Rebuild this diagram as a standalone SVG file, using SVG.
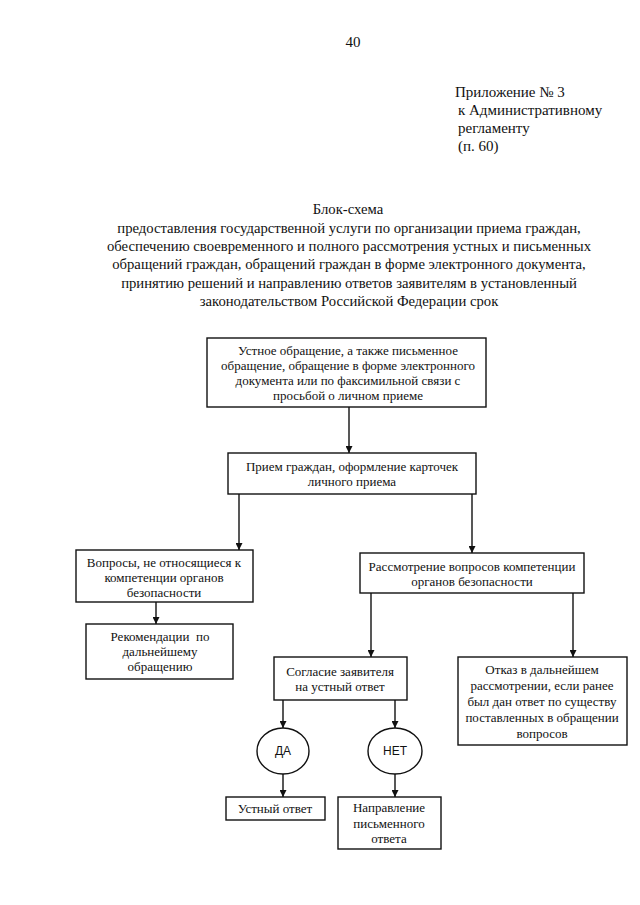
<svg xmlns="http://www.w3.org/2000/svg" width="640" height="905" viewBox="0 0 640 905">
<defs>
<style>
text{font-family:"Liberation Serif","Times New Roman",serif;fill:#111;}
.hd{font-size:15px;}
.t{font-size:14.7px;text-anchor:middle;}
.b{font-size:13px;text-anchor:middle;}
.box{fill:#fff;stroke:#111;stroke-width:1.4;}
.ln{stroke:#111;stroke-width:1.4;fill:none;marker-end:url(#ah);}
</style>
<marker id="ah" viewBox="0 0 10 10" refX="10" refY="5" markerWidth="7" markerHeight="7" markerUnits="userSpaceOnUse" orient="auto">
<path d="M0,0 L10,5 L0,10 z" fill="#111"/>
</marker>
</defs>
<rect width="640" height="905" fill="#fff"/>
<text class="t" x="353" y="47" style="font-size:15px">40</text>
<text class="hd" x="455" y="97">Приложение № 3</text>
<text class="hd" x="458" y="115">к Административному</text>
<text class="hd" x="458" y="133">регламенту</text>
<text class="hd" x="458" y="151">(п. 60)</text>
<text class="t" x="348" y="214">Блок-схема</text>
<text class="t" x="349" y="233">предоставления государственной услуги по организации приема граждан,</text>
<text class="t" x="349" y="251">обеспечению своевременного и полного рассмотрения устных и письменных</text>
<text class="t" x="349" y="269">обращений граждан, обращений граждан в форме электронного документа,</text>
<text class="t" x="349" y="288">принятию решений и направлению ответов заявителям в установленный</text>
<text class="t" x="349" y="306">законодательством Российской Федерации срок</text>
<g id="connectors">
<line class="ln" x1="349" y1="407" x2="349" y2="453"/>
<line class="ln" x1="239" y1="494" x2="239" y2="550"/>
<line class="ln" x1="472" y1="494" x2="472" y2="553"/>
<line class="ln" x1="156" y1="602" x2="156" y2="624"/>
<line class="ln" x1="371" y1="593" x2="371" y2="657"/>
<line class="ln" x1="573" y1="593" x2="573" y2="657"/>
<line class="ln" x1="283" y1="700" x2="283" y2="728"/>
<line class="ln" x1="395" y1="700" x2="395" y2="728"/>
<line class="ln" x1="283" y1="774" x2="283" y2="797"/>
<line class="ln" x1="395" y1="774" x2="395" y2="797"/>
</g>
<g id="n1">
<rect class="box" x="207" y="338" width="279" height="69"/>
<text class="b" x="348" y="355">Устное обращение, а также письменное</text>
<text class="b" x="348" y="370">обращение, обращение в форме электронного</text>
<text class="b" x="348" y="385">документа или по факсимильной связи с</text>
<text class="b" x="348" y="400">просьбой о личном приеме</text>
</g>
<g id="n2">
<rect class="box" x="228" y="453" width="248" height="41"/>
<text class="b" x="352" y="471">Прием граждан, оформление карточек</text>
<text class="b" x="352" y="486">личного приема</text>
</g>
<g id="n3">
<rect class="box" x="76" y="550" width="177" height="52"/>
<text class="b" x="164" y="567">Вопросы, не относящиеся к</text>
<text class="b" x="164" y="582">компетенции органов</text>
<text class="b" x="164" y="597">безопасности</text>
</g>
<g id="n4">
<rect class="box" x="86" y="624" width="147" height="55"/>
<text class="b" x="160" y="641" style="white-space:pre">Рекомендации  по</text>
<text class="b" x="160" y="656">дальнейшему</text>
<text class="b" x="160" y="671">обращению</text>
</g>
<g id="n5">
<rect class="box" x="360" y="553" width="224" height="40"/>
<text class="b" x="472" y="571">Рассмотрение вопросов компетенции</text>
<text class="b" x="472" y="586">органов безопасности</text>
</g>
<g id="n6">
<rect class="box" x="274" y="657" width="133" height="43"/>
<text class="b" x="340" y="676">Согласие заявителя</text>
<text class="b" x="340" y="691">на устный ответ</text>
</g>
<g id="n7">
<rect class="box" x="458" y="657" width="169" height="88"/>
<text class="b" x="542" y="674">Отказ в дальнейшем</text>
<text class="b" x="542" y="690">рассмотрении, если ранее</text>
<text class="b" x="542" y="706">был дан ответ по существу</text>
<text class="b" x="542" y="722">поставленных в обращении</text>
<text class="b" x="542" y="738">вопросов</text>
</g>
<g id="n8">
<ellipse class="box" cx="283" cy="751" rx="26" ry="23"/>
<text class="b" x="283" y="755" style="font-family:'Liberation Sans',Arial,sans-serif;font-size:12px">ДА</text>
</g>
<g id="n9">
<ellipse class="box" cx="395" cy="751" rx="27" ry="23"/>
<text class="b" x="395" y="755" style="font-family:'Liberation Sans',Arial,sans-serif;font-size:12px">НЕТ</text>
</g>
<g id="n10">
<rect class="box" x="226" y="797" width="99" height="23"/>
<text class="b" x="275" y="813">Устный ответ</text>
</g>
<g id="n11">
<rect class="box" x="338" y="797" width="103" height="52"/>
<text class="b" x="389" y="812">Направление</text>
<text class="b" x="389" y="828">письменного</text>
<text class="b" x="389" y="843">ответа</text>
</g>
</svg>
